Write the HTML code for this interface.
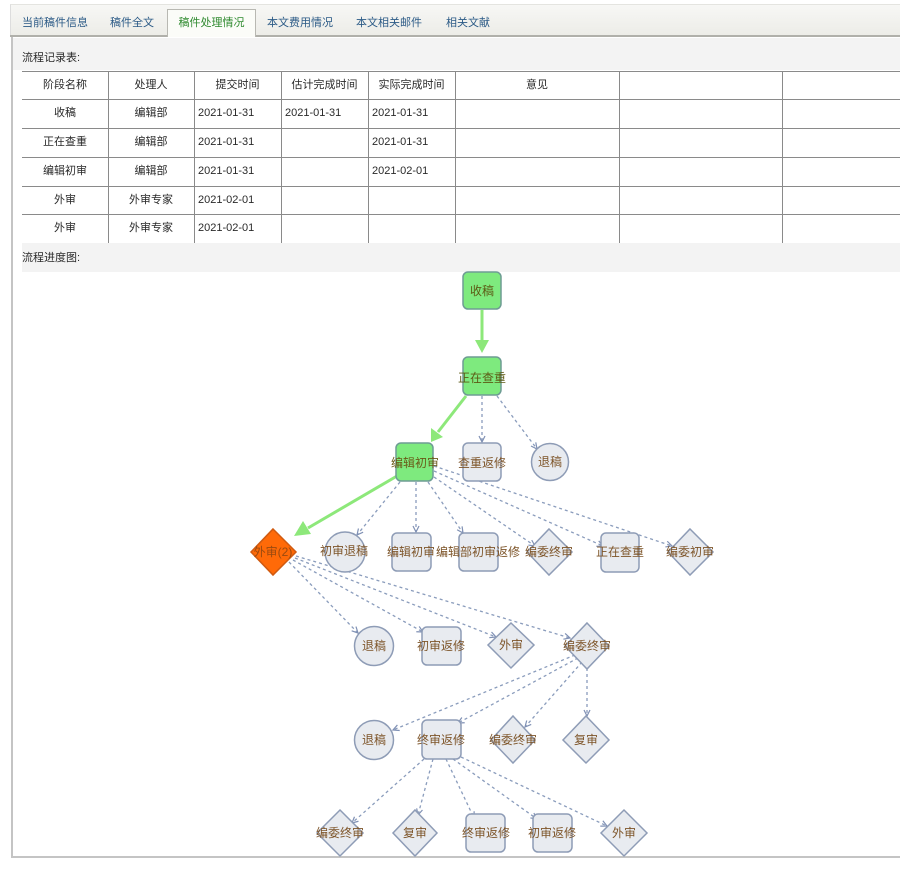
<!DOCTYPE html>
<html><head><meta charset="utf-8">
<style>
*{margin:0;padding:0;box-sizing:border-box}
body{width:900px;height:870px;background:#fff;position:relative;overflow:hidden;font-family:"Liberation Sans","Noto Sans CJK SC",sans-serif;font-size:11px;color:#2a2a2a}
.abs{position:absolute}
.tabbar{left:10px;top:4px;width:890px;height:33px;background:linear-gradient(#f7f7f5,#ecece7);border-top:1px solid #e4e4e0;border-left:1px solid #ddd}
.tabline{left:10px;top:35px;width:890px;height:2px;background:#b0b0aa}
.tab{top:14px;color:#2b5a86;font-size:11px;white-space:nowrap}
.atab{left:167px;top:9px;width:89px;height:28px;background:#fbfcf8;border:1px solid #b8b8b2;border-bottom:none;color:#2f8a2f;text-align:center;line-height:26px;font-size:11px}
.panel{left:11px;top:37px;width:900px;height:821px;border-left:2px solid #c4c4c4;border-bottom:2px solid #c4c4c4}
.band{background:#f3f3f3}
.cell{position:absolute;height:28px;line-height:28px;white-space:nowrap}
.hl{position:absolute;height:1px;background:#8a8a8a;left:22px;width:878px}
.vl{position:absolute;width:1px;background:#8a8a8a;top:71px;height:172px}
</style></head><body>
<div class="abs tabbar"></div>
<div class="abs tabline"></div>
<div class="abs tab" style="left:22px">当前稿件信息</div>
<div class="abs tab" style="left:110px">稿件全文</div>
<div class="abs atab">稿件处理情况</div>
<div class="abs tab" style="left:267px">本文费用情况</div>
<div class="abs tab" style="left:356px">本文相关邮件</div>
<div class="abs tab" style="left:446px">相关文献</div>

<div class="abs panel"></div>
<div class="abs band" style="left:13px;top:38px;width:887px;height:32px"></div>
<div class="abs" style="left:22px;top:49px">流程记录表:</div>
<div class="abs band" style="left:22px;top:243px;width:878px;height:29px"></div>
<div class="abs" style="left:22px;top:249px">流程进度图:</div>

<!-- table lines -->
<div class="hl" style="top:71px"></div>
<div class="hl" style="top:99px"></div>
<div class="hl" style="top:128px"></div>
<div class="hl" style="top:157px"></div>
<div class="hl" style="top:186px"></div>
<div class="hl" style="top:214px"></div>
<div class="vl" style="left:108px"></div>
<div class="vl" style="left:194px"></div>
<div class="vl" style="left:281px"></div>
<div class="vl" style="left:368px"></div>
<div class="vl" style="left:455px"></div>
<div class="vl" style="left:619px"></div>
<div class="vl" style="left:782px"></div>

<!-- header -->
<div class="cell" style="left:22px;top:71px;width:86px;text-align:center">阶段名称</div>
<div class="cell" style="left:108px;top:71px;width:86px;text-align:center">处理人</div>
<div class="cell" style="left:194px;top:71px;width:87px;text-align:center">提交时间</div>
<div class="cell" style="left:281px;top:71px;width:87px;text-align:center">估计完成时间</div>
<div class="cell" style="left:368px;top:71px;width:87px;text-align:center">实际完成时间</div>
<div class="cell" style="left:455px;top:71px;width:164px;text-align:center">意见</div>

<!-- rows -->
<div class="cell" style="left:22px;top:99px;width:86px;text-align:center">收稿</div>
<div class="cell" style="left:108px;top:99px;width:86px;text-align:center">编辑部</div>
<div class="cell" style="left:198px;top:99px">2021-01-31</div>
<div class="cell" style="left:285px;top:99px">2021-01-31</div>
<div class="cell" style="left:372px;top:99px">2021-01-31</div>

<div class="cell" style="left:22px;top:128px;width:86px;text-align:center">正在查重</div>
<div class="cell" style="left:108px;top:128px;width:86px;text-align:center">编辑部</div>
<div class="cell" style="left:198px;top:128px">2021-01-31</div>
<div class="cell" style="left:372px;top:128px">2021-01-31</div>

<div class="cell" style="left:22px;top:157px;width:86px;text-align:center">编辑初审</div>
<div class="cell" style="left:108px;top:157px;width:86px;text-align:center">编辑部</div>
<div class="cell" style="left:198px;top:157px">2021-01-31</div>
<div class="cell" style="left:372px;top:157px">2021-02-01</div>

<div class="cell" style="left:22px;top:186px;width:86px;text-align:center">外审</div>
<div class="cell" style="left:108px;top:186px;width:86px;text-align:center">外审专家</div>
<div class="cell" style="left:198px;top:186px">2021-02-01</div>

<div class="cell" style="left:22px;top:214px;width:86px;text-align:center">外审</div>
<div class="cell" style="left:108px;top:214px;width:86px;text-align:center">外审专家</div>
<div class="cell" style="left:198px;top:214px">2021-02-01</div>

<svg class="abs" style="left:0;top:0" width="900" height="870" viewBox="0 0 900 870">
<defs>
<marker id="oa" markerWidth="8" markerHeight="8" refX="7" refY="4" orient="auto" markerUnits="userSpaceOnUse">
<path d="M1,1 L7,4 L1,7" fill="none" stroke="#7f90b4" stroke-width="1.2"/>
</marker>
</defs>
<g stroke="#8a9cbc" stroke-width="1.3" stroke-dasharray="3,3" fill="none" marker-end="url(#oa)">
<line x1="482" y1="396" x2="482" y2="442"/>
<line x1="497" y1="396" x2="537" y2="449"/>
<line x1="400" y1="482" x2="357" y2="535"/>
<line x1="416" y1="482" x2="416" y2="532"/>
<line x1="428" y1="482" x2="463" y2="533"/>
<line x1="434" y1="477" x2="535" y2="546"/>
<line x1="434" y1="471" x2="603" y2="546"/>
<line x1="434" y1="466" x2="672" y2="546"/>
<line x1="289" y1="562" x2="358" y2="633"/>
<line x1="293" y1="560" x2="423" y2="632"/>
<line x1="295" y1="558" x2="496" y2="637"/>
<line x1="296" y1="556" x2="570" y2="638"/>
<line x1="575" y1="655" x2="393" y2="730"/>
<line x1="578" y1="658" x2="458" y2="723"/>
<line x1="582" y1="662" x2="525" y2="727"/>
<line x1="587" y1="668" x2="587" y2="716"/>
<line x1="424" y1="759" x2="352" y2="823"/>
<line x1="433" y1="759" x2="418" y2="815"/>
<line x1="446" y1="759" x2="474" y2="818"/>
<line x1="453" y1="759" x2="537" y2="819"/>
<line x1="461" y1="757" x2="607" y2="826"/>
</g>
<!-- green arrows -->
<g stroke="#8de87a" stroke-width="3" fill="#8de87a">
<line x1="482" y1="310" x2="482" y2="342"/>
<polygon stroke="none" points="475,340 489,340 482,353"/>
<line x1="466" y1="396" x2="438" y2="432"/>
<polygon stroke="none" points="431,428 443,437 431,442"/>
<line x1="397" y1="476" x2="308" y2="528"/>
<polygon stroke="none" points="303,521 311,534 294,536"/>
</g>
<!-- nodes -->
<g stroke-width="1.5">
<rect x="463" y="272" width="38" height="37" rx="5" fill="#7eea7e" stroke="#6e9c94"/>
<rect x="463" y="357" width="38" height="38" rx="5" fill="#7eea7e" stroke="#6e9c94"/>
<rect x="396" y="443" width="37" height="38" rx="5" fill="#7eea7e" stroke="#6e9c94"/>
<rect x="463" y="443" width="38" height="38" rx="5" fill="#e8ebf0" stroke="#8e9cb6"/>
<circle cx="550" cy="462" r="18.5" fill="#e8ebf0" stroke="#8e9cb6"/>
<polygon points="273,529 296,552 273,575 251,552" fill="#ff6a08" stroke="#d05a10"/>
<circle cx="345" cy="552" r="20" fill="#e8ebf0" stroke="#8e9cb6"/>
<rect x="392" y="533" width="39" height="38" rx="5" fill="#e8ebf0" stroke="#8e9cb6"/>
<rect x="459" y="533" width="39" height="38" rx="5" fill="#e8ebf0" stroke="#8e9cb6"/>
<polygon points="549,529 572,552 549,575 527,552" fill="#e8ebf0" stroke="#8e9cb6"/>
<rect x="601" y="533" width="38" height="39" rx="5" fill="#e8ebf0" stroke="#8e9cb6"/>
<polygon points="690,529 713,552 690,575 668,552" fill="#e8ebf0" stroke="#8e9cb6"/>
<circle cx="374" cy="646" r="19.5" fill="#e8ebf0" stroke="#8e9cb6"/>
<rect x="422" y="627" width="39" height="38" rx="5" fill="#e8ebf0" stroke="#8e9cb6"/>
<polygon points="511,623 534,645 511,668 488,645" fill="#e8ebf0" stroke="#8e9cb6"/>
<polygon points="587,623 609,646 587,669 565,646" fill="#e8ebf0" stroke="#8e9cb6"/>
<circle cx="374" cy="740" r="19.5" fill="#e8ebf0" stroke="#8e9cb6"/>
<rect x="422" y="720" width="39" height="39" rx="5" fill="#e8ebf0" stroke="#8e9cb6"/>
<polygon points="513,716 535,740 513,763 491,740" fill="#e8ebf0" stroke="#8e9cb6"/>
<polygon points="586,716 609,740 586,763 563,740" fill="#e8ebf0" stroke="#8e9cb6"/>
<polygon points="340,810 363,833 340,856 317,833" fill="#e8ebf0" stroke="#8e9cb6"/>
<polygon points="415,810 437,833 415,856 393,833" fill="#e8ebf0" stroke="#8e9cb6"/>
<rect x="466" y="814" width="39" height="38" rx="5" fill="#e8ebf0" stroke="#8e9cb6"/>
<rect x="533" y="814" width="39" height="38" rx="5" fill="#e8ebf0" stroke="#8e9cb6"/>
<polygon points="624,810 647,833 624,856 601,833" fill="#e8ebf0" stroke="#8e9cb6"/>
</g>
<g font-family="Liberation Sans, Noto Sans CJK SC, sans-serif" font-size="12" text-anchor="middle" fill="#7d5428">
<text x="482" y="295" fill="#5c5a14">收稿</text>
<text x="482" y="382" fill="#5c5a14">正在查重</text>
<text x="415" y="467" fill="#6a5a18">编辑初审</text>
<text x="482" y="467">查重返修</text>
<text x="550" y="466">退稿</text>
<text x="273" y="556" fill="#9a4a10">外审(2)</text>
<text x="344" y="555">初审退稿</text>
<text x="411" y="556">编辑初审</text>
<text x="478" y="556">编辑部初审返修</text>
<text x="549" y="556">编委终审</text>
<text x="620" y="556">正在查重</text>
<text x="690" y="556">编委初审</text>
<text x="374" y="650">退稿</text>
<text x="441" y="650">初审返修</text>
<text x="511" y="649">外审</text>
<text x="587" y="650">编委终审</text>
<text x="374" y="744">退稿</text>
<text x="441" y="744">终审返修</text>
<text x="513" y="744">编委终审</text>
<text x="586" y="744">复审</text>
<text x="340" y="837">编委终审</text>
<text x="415" y="837">复审</text>
<text x="486" y="837">终审返修</text>
<text x="552" y="837">初审返修</text>
<text x="624" y="837">外审</text>
</g>
</svg>
</body></html>
